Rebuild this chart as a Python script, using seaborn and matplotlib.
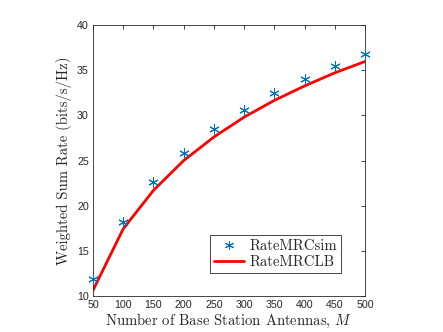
import matplotlib
matplotlib.use("Agg")
import matplotlib.pyplot as plt
import seaborn as sns
import pandas as pd
from matplotlib.lines import Line2D

antennas = [50, 100, 150, 200, 250, 300, 350, 400, 450, 500]
rate_sim = [11.85, 18.25, 22.6, 25.85, 28.45, 30.6, 32.45, 34.05, 35.5, 36.8]
rate_lb = [10.65, 17.45, 21.7, 25.0, 27.6, 29.8, 31.65, 33.25, 34.7, 35.95]
xticks = [50, 100, 150, 200, 250, 300, 350, 400, 450, 500]
yticks = [10, 15, 20, 25, 30, 35, 40]

sns.set_theme(style="white")
plt.rcParams["font.family"] = ["Liberation Sans", "DejaVu Sans"]
plt.rcParams["mathtext.fontset"] = "cm"

df = pd.DataFrame({"M": antennas, "sim": rate_sim, "lb": rate_lb})

fig = plt.figure(figsize=(4.43, 3.32), dpi=100)
ax = fig.add_axes([0.21, 0.108, 0.614, 0.817])

blue = "#0072BD"
sns.lineplot(data=df, x="M", y="lb", ax=ax, color="#FF0000", linewidth=2.0, zorder=2)
sns.scatterplot(data=df, x="M", y="sim", ax=ax, marker=(6, 2, 0), s=48,
                color=blue, edgecolor=blue, linewidth=0.75, zorder=3, clip_on=False)

ax.set_xlim(50, 500)
ax.set_ylim(10, 40)
ax.set_xticks(xticks)
ax.set_yticks(yticks)
ax.tick_params(direction="in", length=3, width=0.6, colors="#262626",
               labelsize=7.7, top=True, right=True, pad=3)
for s in ax.spines.values():
    s.set_color("#262626")
    s.set_linewidth(0.6)
    s.set_visible(True)

ax.set_xlabel("Number of Base Station Antennas, $M$", family="cmr10", fontsize=10.6, labelpad=1)
ax.set_ylabel("Weighted Sum Rate (bits/s/Hz)", family="cmr10", fontsize=10.6, labelpad=4)

handles = [
    Line2D([], [], linestyle="none", marker=(6, 2, 0), markersize=6.5,
           color=blue, markeredgewidth=0.75),
    Line2D([], [], color="#FF0000", linewidth=2.0),
]
leg = ax.legend(handles, ["RateMRCsim", "RateMRCLB"], loc="lower right",
                bbox_to_anchor=(0.912, 0.085), borderaxespad=0,
                prop={"family": "cmr10", "size": 10.6}, frameon=True, fancybox=False,
                edgecolor="#262626", framealpha=1, handlelength=2.0,
                borderpad=0.3, labelspacing=0.15, handletextpad=0.35)
leg.get_frame().set_linewidth(0.6)

fig.savefig("out.png", dpi=100)
